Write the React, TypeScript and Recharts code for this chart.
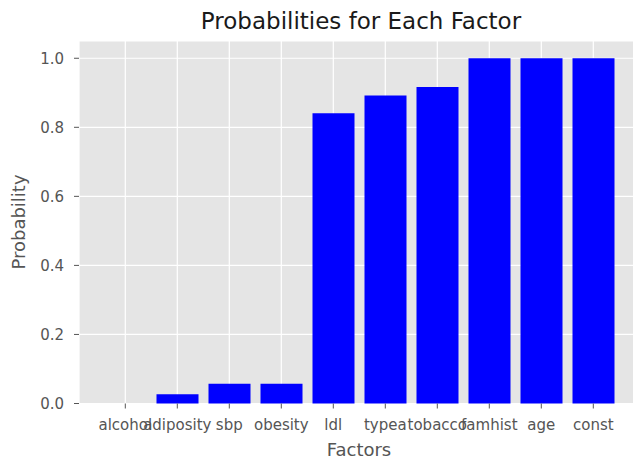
import React from 'react';
import { BarChart, Bar, XAxis, YAxis, CartesianGrid } from 'recharts';

const factors = ['alcohol', 'adiposity', 'sbp', 'obesity', 'ldl', 'typea', 'tobacco', 'famhist', 'age', 'const'];
const probabilities = [0, 0.027, 0.057, 0.057, 0.841, 0.892, 0.917, 1.0, 1.0, 1.0];
const yTicks = [0, 0.2, 0.4, 0.6, 0.8, 1.0];

const titleText = 'Probabilities for Each Factor';
const xLabelText = 'Factors';
const yLabelText = 'Probability';

const data = factors.map((f, i) => ({ factor: f, probability: probabilities[i] }));

const FONT = '"DejaVu Sans", sans-serif';

export default function App() {
  return (
    <div style={{ position: 'absolute', left: 0, top: 0, width: 633, height: 460, overflow: 'hidden', background: '#fff' }}>
      <BarChart
        width={680}
        height={460}
        data={data}
        margin={{ top: 41, right: 40.4, bottom: 26.5, left: 0 }}
        barCategoryGap="10%"
      >
        <CartesianGrid fill="#E5E5E5" stroke="#FFFFFF" strokeWidth={1.2} />
        <XAxis
          dataKey="factor"
          height={30}
          axisLine={false}
          tickLine={{ stroke: '#555555' }}
          tickSize={5}
          tickMargin={11}
          interval={0}
          padding={{ left: 20.3, right: 20.3 }}
          tick={{ fill: '#555555', fontSize: 15, fontFamily: FONT }}
        />
        <YAxis
          width={79}
          domain={[0, 1.05]}
          ticks={yTicks}
          axisLine={false}
          tickLine={{ stroke: '#555555' }}
          tickSize={5}
          tickMargin={10}
          tickFormatter={(v: number) => v.toFixed(1)}
          tick={{ fill: '#555555', fontSize: 15, fontFamily: FONT }}
        />
        <Bar dataKey="probability" fill="#0000FF" isAnimationActive={false} />
      </BarChart>
      <svg width={633} height={460} style={{ position: 'absolute', left: 0, top: 0, pointerEvents: 'none' }}>
        <text x={361} y={28.5} textAnchor="middle" fontFamily={FONT} fontSize={23} fill="#1a1a1a">
          {titleText}
        </text>
        <text x={359} y={456} textAnchor="middle" fontFamily={FONT} fontSize={18} fill="#555555">
          {xLabelText}
        </text>
        <text
          x={25}
          y={222}
          textAnchor="middle"
          fontFamily={FONT}
          fontSize={18}
          fill="#555555"
          transform="rotate(-90 25 222)"
        >
          {yLabelText}
        </text>
      </svg>
    </div>
  );
}
